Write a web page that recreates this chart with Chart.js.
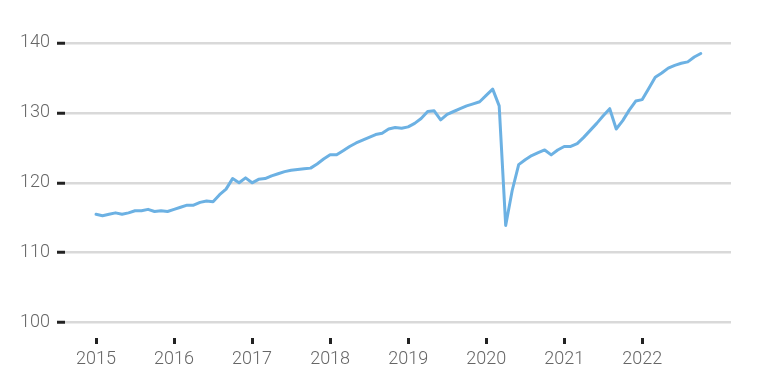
<!DOCTYPE html>
<html>
<head>
<meta charset="utf-8">
<script src="https://cdn.jsdelivr.net/npm/chart.js@4/dist/chart.umd.min.js"></script>
<style>
  html, body { margin: 0; padding: 0; background: #fff; }
  #wrap { width: 759px; height: 391px; }
</style>
</head>
<body>
<div id="wrap"><canvas id="chart" width="759" height="391"></canvas></div>
<script>
// categorias: anos (série mensal, jan/2015 a out/2022)
const years = [2015, 2016, 2017, 2018, 2019, 2020, 2021, 2022]

// valores mensais por ano
const v2015 = [115.5, 115.3, 115.5, 115.7, 115.5, 115.7, 116.0, 116.0, 116.2, 115.9, 116.0, 115.9]
const v2016 = [116.2, 116.5, 116.8, 116.8, 117.2, 117.4, 117.3, 118.3, 119.1, 120.6, 120.0, 120.7]
const v2017 = [120.0, 120.5, 120.6, 121.0, 121.3, 121.6, 121.8, 121.9, 122.0, 122.1, 122.7, 123.4]
const v2018 = [124.0, 124.0, 124.6, 125.2, 125.7, 126.1, 126.5, 126.9, 127.1, 127.7, 127.9, 127.8]
const v2019 = [128.0, 128.5, 129.2, 130.2, 130.3, 129.0, 129.8, 130.2, 130.6, 131.0, 131.3, 131.6]
const v2020 = [132.5, 133.4, 131.0, 113.9, 118.9, 122.6, 123.3, 123.9, 124.3, 124.7, 124.0, 124.7]
const v2021 = [125.2, 125.2, 125.6, 126.5, 127.5, 128.5, 129.6, 130.6, 127.7, 128.9, 130.4, 131.7]
const v2022 = [131.9, 133.5, 135.1, 135.7, 136.4, 136.8, 137.1, 137.3, 138.0, 138.5]

// marcas do eixo Y
const yTicks = [100, 110, 120, 130, 140]

const allValues = [...v2015, ...v2016, ...v2017, ...v2018, ...v2019, ...v2020, ...v2021, ...v2022]
// x = índice do mês desde jan/2015
const points = allValues.map((v, i) => ({ x: i, y: v }))

const labelFont = { family: "Roboto", size: 18, weight: "300" }

const ctx = document.getElementById("chart").getContext("2d")

new Chart(ctx, {
  type: "line",
  data: {
    datasets: [
      {
        data: points,
        borderColor: "#6cb1e3",
        borderWidth: 3,
        borderJoinStyle: "round",
        borderCapStyle: "round",
        pointRadius: 0,
        tension: 0,
        fill: false,
      },
    ],
  },
  options: {
    responsive: false,
    animation: false,
    devicePixelRatio: 1,
    layout: { padding: { left: 0, right: 28, top: 36, bottom: 0 } },
    plugins: {
      legend: { display: false },
      tooltip: { enabled: false },
    },
    scales: {
      x: {
        type: "linear",
        min: -4.77,
        max: 97.65,
        afterBuildTicks: (scale) => {
          scale.ticks = years.map((y, i) => ({ value: i * 12 }))
        },
        afterFit: (scale) => {
          scale.height = 53
        },
        ticks: {
          callback: (value) => years[Math.round(value / 12)],
          color: "#666",
          font: labelFont,
          padding: 5,
          maxRotation: 0,
          autoSkip: false,
        },
        grid: {
          drawOnChartArea: false,
          tickLength: 6,
          tickWidth: 3,
          tickColor: "#222",
        },
        border: { display: false },
      },
      y: {
        min: 97.8,
        max: 141,
        afterBuildTicks: (scale) => {
          scale.ticks = yTicks.map((v) => ({ value: v }))
        },
        afterFit: (scale) => {
          scale.width = 65
        },
        ticks: {
          color: "#666",
          font: labelFont,
          padding: 7,
        },
        grid: {
          color: "#d9d9d9",
          lineWidth: 2.5,
          tickLength: 8,
          tickWidth: 3,
          tickColor: "#222",
        },
        border: { display: false },
      },
    },
  },
})
</script>
</body>
</html>
